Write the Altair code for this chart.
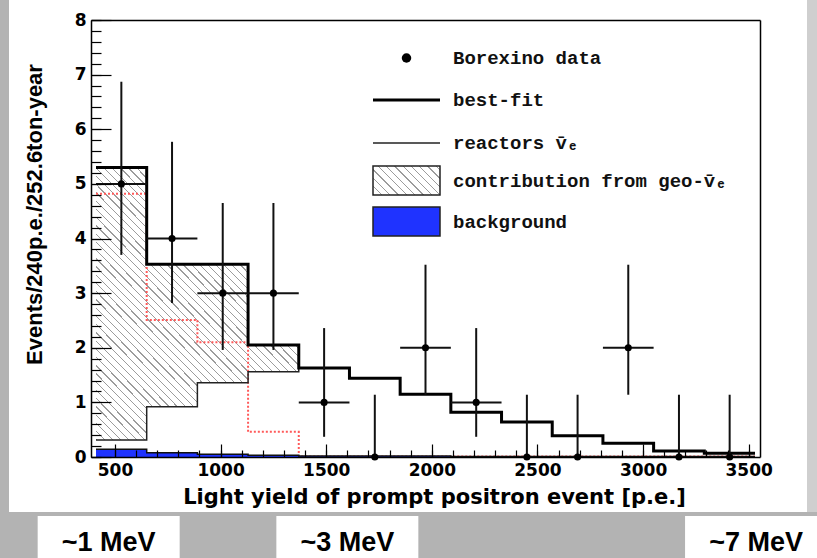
import altair as alt
import pandas as pd

# ---------------- data ----------------
bin_edges = [410, 650, 890, 1130, 1370, 1610, 1850, 2090, 2330, 2570, 2810, 3050, 3290, 3530]
bin_centers = [530, 770, 1010, 1250, 1490, 1730, 1970, 2210, 2450, 2690, 2930, 3170, 3410]
data_counts = [5, 4, 3, 3, 1, 0, 2, 1, 0, 0, 2, 0, 0]
err_low = [3.70, 2.82, 1.96, 1.96, 0.37, 0.0, 1.14, 0.37, 0.0, 0.0, 1.14, 0.0, 0.0]
err_high = [6.87, 5.77, 4.65, 4.65, 2.36, 1.14, 3.52, 2.36, 1.14, 1.14, 3.52, 1.14, 1.14]
best_fit = [5.30, 3.53, 3.53, 2.05, 1.63, 1.44, 1.15, 0.82, 0.64, 0.39, 0.25, 0.11, 0.07]
reactors = [0.31, 0.92, 1.36, 1.56, 1.63, 1.44, 1.15, 0.82, 0.64, 0.39, 0.25, 0.11, 0.07]
geo_only = [4.82, 2.51, 2.10, 0.46, 0.01, 0.01, 0.01, 0.01, 0.01, 0.01, 0.01, 0.01, 0.01]
background = [0.14, 0.08, 0.05, 0.03, 0.02, 0.02, 0.02, 0.01, 0.01, 0.01, 0.01, 0.01, 0.01]
geo_nbins = 4  # hatched geo contribution covers the first four bins

x_major = [500, 1000, 1500, 2000, 2500, 3000, 3500]
x_minor = list(range(500, 3501, 100))
y_major = [0, 1, 2, 3, 4, 5, 6, 7, 8]
y_minor = [round(i * 0.2, 1) for i in range(41)]

legend_labels = ["Borexino data", "best-fit", "reactors v\u0304\u2091",
                 "contribution from geo-v\u0304\u2091", "background"]
mev_labels = ["~1 MeV", "~3 MeV", "~7 MeV"]
mev_pe = [470, 1600, 3535]

x_title = "Light yield of prompt positron event [p.e.]"
y_title = "Events/240p.e./252.6ton-year"

# ---------------- tables ----------------
step_df = pd.DataFrame({
    "x": bin_edges,
    "best": best_fit + best_fit[-1:],
    "reac": reactors + reactors[-1:],
    "geo": geo_only + geo_only[-1:],
    "bkg": background + background[-1:],
})
hatch_df = pd.DataFrame({
    "x": bin_edges[:geo_nbins + 1],
    "top": best_fit[:geo_nbins] + best_fit[geo_nbins - 1:geo_nbins],
    "low": reactors[:geo_nbins] + reactors[geo_nbins - 1:geo_nbins],
})
pts_df = pd.DataFrame({
    "x": bin_centers, "n": data_counts, "lo": err_low, "hi": err_high,
    "xlo": bin_edges[:-1], "xhi": bin_edges[1:],
})
hbar_df = pts_df[pts_df["n"] > 0]
mev_df = pd.DataFrame({"x": mev_pe, "label": mev_labels})
one = pd.DataFrame({"k": [0]})

# ---------------- styling helpers ----------------
XS = alt.Scale(domain=[410, 3530], nice=False, zero=False)
YS = alt.Scale(domain=[0, 8], nice=False, zero=False)
AX_FONT = "DejaVu Sans"
BLUE = "#1f33ff"


def hatch(n, x2, y2, frac=0.16, col="#9c9c9c"):
    stops = []
    for k in range(n):
        s, e, f = k / n, (k + frac) / n, (k + 1) / n
        stops += [{"offset": s, "color": col}, {"offset": e, "color": col},
                  {"offset": e, "color": "white"}, {"offset": f, "color": "white"}]
    return alt.LinearGradient(gradient="linear", stops=stops, x1=0, y1=1, x2=x2, y2=y2)


def tick_axis(orient, values, size):
    return alt.Axis(orient=orient, values=values, offset=-size, tickSize=size,
                    tickWidth=1.2, tickColor="black", labels=False, domain=False,
                    grid=False, title=None, zindex=1)


def frame_axis(orient):
    return alt.Axis(orient=orient, ticks=False, labels=False, domain=True,
                    domainColor="black", domainWidth=1.5, grid=False, title=None, zindex=1)


x_label_axis = alt.Axis(
    orient="bottom", values=x_major, format="d", ticks=False, domain=True,
    domainColor="black", domainWidth=1.5, grid=False, labelFont=AX_FONT,
    labelFontSize=17, labelFontWeight="bold", labelColor="black", labelPadding=5,
    labelFlush=False, title=x_title, titleFont=AX_FONT, titleFontSize=21,
    titleFontWeight="bold", titleColor="black", titleX=343, titleY=46,
    titleAlign="center", titleBaseline="alphabetic", zindex=1)
y_label_axis = alt.Axis(
    orient="left", values=y_major, ticks=False, domain=True, domainColor="black",
    domainWidth=1.5, grid=False, labelFont=AX_FONT, labelFontSize=17,
    labelFontWeight="bold", labelColor="black", labelPadding=5,
    title=y_title, titleFont="Liberation Sans", titleFontSize=22, titleFontWeight="bold",
    titleColor="black", titleAngle=270, titleX=-57, titleY=194, titleAlign="center",
    titleBaseline="middle", zindex=1)

# ---------------- decoration (slide frame) ----------------
panel = alt.Chart(one).mark_rect(color="white").encode(
    x=alt.value(-82), x2=alt.value(716), y=alt.value(-20), y2=alt.value(492))
strip = alt.Chart(one).mark_rect(color="#cfcfcf").encode(
    x=alt.value(716), x2=alt.value(730), y=alt.value(-20), y2=alt.value(492))
mev_box = alt.Chart(mev_df).mark_bar(color="white", width=142).encode(
    x=alt.X("x:Q", scale=XS, axis=None), y=alt.value(496), y2=alt.value(545))
mev_text = alt.Chart(mev_df).mark_text(
    font="Liberation Sans", fontSize=27, fontWeight="bold", color="black",
    baseline="alphabetic", align="center").encode(
    x=alt.X("x:Q", scale=XS, axis=None), y=alt.value(531), text="label:N")

# ---------------- histogram layers ----------------
hatched = alt.Chart(hatch_df).mark_area(
    interpolate="step-after", fill=hatch(62, 0.9, -0.1925)).encode(
    x=alt.X("x:Q", scale=XS, axis=None), y=alt.Y("top:Q", scale=YS, axis=None), y2="low:Q")
geo_line = alt.Chart(step_df).mark_line(
    interpolate="step-after", color="#ff5a5a", strokeDash=[2, 2], strokeWidth=2).encode(
    x=alt.X("x:Q", scale=XS, axis=None), y=alt.Y("geo:Q", scale=YS, axis=None))
bkg_area = alt.Chart(step_df).mark_area(interpolate="step-after", color=BLUE).encode(
    x=alt.X("x:Q", scale=XS, axis=None), y=alt.Y("bkg:Q", scale=YS, axis=None))
bkg_line = alt.Chart(step_df).mark_line(
    interpolate="step-after", color="#111111", strokeWidth=1.5).encode(
    x=alt.X("x:Q", scale=XS, axis=None), y=alt.Y("bkg:Q", scale=YS, axis=None))
reac_line = alt.Chart(step_df).mark_line(
    interpolate="step-after", color="#222222", strokeWidth=1.5).encode(
    x=alt.X("x:Q", scale=XS, axis=frame_axis("top")),
    y=alt.Y("reac:Q", scale=YS, axis=frame_axis("right")))
best_line = alt.Chart(step_df).mark_line(
    interpolate="step-after", color="black", strokeWidth=3).encode(
    x=alt.X("x:Q", scale=XS, axis=x_label_axis),
    y=alt.Y("best:Q", scale=YS, axis=y_label_axis))

hbars = alt.Chart(hbar_df).mark_rule(color="#111111", strokeWidth=2).encode(
    x=alt.X("xlo:Q", scale=XS, axis=None), x2="xhi:Q",
    y=alt.Y("n:Q", scale=YS, axis=None))
vbars = alt.Chart(pts_df).mark_rule(color="#111111", strokeWidth=2).encode(
    x=alt.X("x:Q", scale=XS, axis=tick_axis("bottom", x_minor, 7)),
    y=alt.Y("lo:Q", scale=YS, axis=tick_axis("left", y_minor, 10)), y2="hi:Q")
points = alt.Chart(pts_df).mark_circle(color="black", size=50, opacity=1).encode(
    x=alt.X("x:Q", scale=XS, axis=tick_axis("bottom", x_major, 13)),
    y=alt.Y("n:Q", scale=YS, axis=tick_axis("left", y_major, 20)))

# ---------------- legend ----------------
LX1, LX2, LTX = 282, 349, 362
ROWS = [38, 80, 123, 161, 202]
leg = [
    alt.Chart(one).mark_circle(color="black", size=90, opacity=1).encode(
        x=alt.value((LX1 + LX2) / 2), y=alt.value(ROWS[0])),
    alt.Chart(one).mark_rule(color="black", strokeWidth=3).encode(
        x=alt.value(LX1), x2=alt.value(LX2), y=alt.value(ROWS[1])),
    alt.Chart(one).mark_rule(color="#222222", strokeWidth=1.5).encode(
        x=alt.value(LX1), x2=alt.value(LX2), y=alt.value(ROWS[2])),
    alt.Chart(one).mark_rect(fill=hatch(12, 1.25, 0.459), stroke="#222222",
                             strokeWidth=1.5).encode(
        x=alt.value(LX1), x2=alt.value(LX2), y=alt.value(146), y2=alt.value(175)),
    alt.Chart(one).mark_rect(fill=BLUE, stroke="#222222", strokeWidth=1.5).encode(
        x=alt.value(LX1), x2=alt.value(LX2), y=alt.value(187), y2=alt.value(216)),
]
for i, lab in enumerate(legend_labels):
    leg.append(alt.Chart(pd.DataFrame({"label": [lab]})).mark_text(
        font="Liberation Mono", fontSize=19, fontWeight="bold", color="#111111",
        align="left", baseline="middle").encode(
        x=alt.value(LTX), y=alt.value(ROWS[i]), text="label:N"))

chart = alt.layer(
    panel, strip, mev_box, mev_text,
    hatched, geo_line, bkg_area, bkg_line, reac_line, best_line,
    hbars, vbars, points, *leg
).resolve_axis(x="independent", y="independent").properties(
    width=669, height=437,
    padding={"left": 91, "top": 20, "right": 57, "bottom": 101},
    autosize=alt.AutoSizeParams(type="none"),
).configure(background="#b3b3b3").configure_view(stroke="transparent")

chart.save("out.html", embed_options={"renderer": "svg", "actions": False})
